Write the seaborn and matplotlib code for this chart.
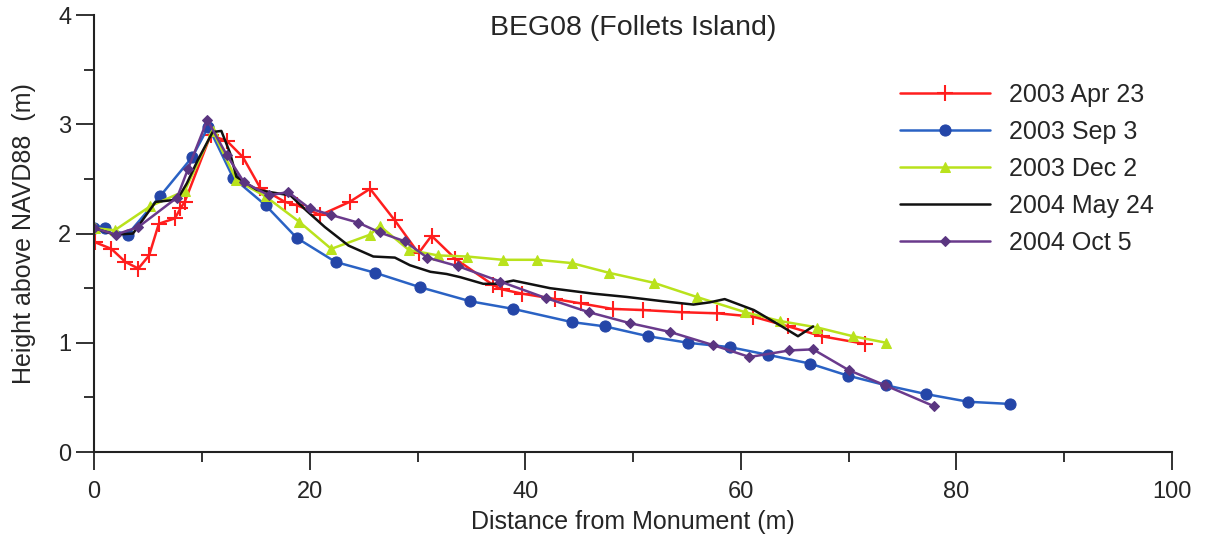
import numpy as np
import pandas as pd
import matplotlib
matplotlib.use("Agg")
import matplotlib.pyplot as plt
from matplotlib.ticker import MultipleLocator
import seaborn as sns

# --- Data ---
apr03_x = [0.1, 1.6, 2.9, 4.1, 5.1, 6.0, 7.5, 8.0, 8.4, 10.8, 12.3, 13.8, 15.4, 17.7, 18.8,
           21.0, 23.7, 25.6, 27.9, 30.1, 31.3, 33.5, 37.0, 37.8, 39.7, 42.8, 45.2, 48.1,
           50.9, 54.5, 57.8, 61.1, 64.4, 67.5, 71.5]
apr03_y = [1.92, 1.86, 1.74, 1.68, 1.80, 2.09, 2.14, 2.23, 2.29, 2.90, 2.85, 2.70, 2.42, 2.29, 2.26,
           2.17, 2.29, 2.41, 2.12, 1.82, 1.98, 1.77, 1.53, 1.49, 1.45, 1.40, 1.36, 1.31,
           1.30, 1.28, 1.27, 1.24, 1.15, 1.06, 0.99]

sep03_x = [0.0, 1.0, 3.1, 6.1, 9.1, 10.6, 12.9, 15.9, 18.8, 22.4, 26.1, 30.2, 34.9, 38.9,
           44.3, 47.4, 51.4, 55.1, 59.0, 62.5, 66.4, 69.9, 73.5, 77.2, 81.1, 85.0]
sep03_y = [2.05, 2.05, 1.99, 2.34, 2.70, 2.98, 2.51, 2.26, 1.96, 1.74, 1.64, 1.51, 1.38, 1.31,
           1.19, 1.15, 1.06, 1.00, 0.96, 0.89, 0.81, 0.70, 0.61, 0.53, 0.46, 0.44]

dec03_x = [0.1, 1.9, 5.2, 8.4, 11.0, 13.2, 15.9, 19.0, 22.0, 25.6, 26.5, 29.2, 31.9, 34.6,
           37.9, 41.1, 44.3, 47.8, 51.9, 55.9, 60.4, 63.6, 67.1, 70.4, 73.5]
dec03_y = [2.05, 2.03, 2.25, 2.39, 2.94, 2.49, 2.34, 2.11, 1.86, 1.99, 2.07, 1.85, 1.80, 1.79,
           1.76, 1.76, 1.73, 1.64, 1.55, 1.42, 1.28, 1.20, 1.14, 1.06, 1.00]

may04_x = [0.0, 1.9, 3.6, 5.7, 7.7, 8.6, 9.6, 11.0, 11.8, 12.6, 13.2, 15.1, 16.3, 18.2, 19.7,
           21.4, 23.6, 25.9, 27.9, 29.3, 31.2, 32.7, 34.0, 36.1, 37.4, 38.9, 42.3, 46.3,
           49.4, 52.8, 55.6, 57.1, 58.5, 61.2, 63.8, 65.3, 66.7]
may04_y = [2.05, 1.99, 2.00, 2.29, 2.31, 2.46, 2.67, 2.93, 2.94, 2.74, 2.52, 2.40, 2.38, 2.35, 2.21,
           2.06, 1.89, 1.79, 1.78, 1.71, 1.65, 1.63, 1.60, 1.54, 1.54, 1.57, 1.50, 1.45,
           1.42, 1.38, 1.35, 1.37, 1.40, 1.30, 1.15, 1.06, 1.15]

oct04_x = [0.0, 2.0, 4.1, 7.7, 8.7, 10.5, 12.3, 13.9, 16.2, 18.0, 20.0, 22.0, 24.5, 26.5, 28.8,
           30.9, 33.8, 37.7, 41.9, 45.9, 49.7, 53.4, 57.4, 60.8, 64.5, 66.7, 70.0, 73.4, 77.9]
oct04_y = [2.05, 1.99, 2.06, 2.33, 2.59, 3.04, 2.72, 2.47, 2.35, 2.38, 2.23, 2.17, 2.10, 2.01, 1.93,
           1.78, 1.70, 1.56, 1.41, 1.28, 1.18, 1.10, 0.98, 0.87, 0.93, 0.94, 0.75, 0.61, 0.42]

labels = ["2003 Apr 23", "2003 Sep 3", "2003 Dec 2", "2004 May 24", "2004 Oct 5"]
series_x = [apr03_x, sep03_x, dec03_x, may04_x, oct04_x]
series_y = [apr03_y, sep03_y, dec03_y, may04_y, oct04_y]

# --- Styles ---
colors = ["#ff1e1e", "#2a62c4", "#b9e21c", "#111111", "#6a3a8c"]
marker_faces = ["#ff1e1e", "#2446a8", "#b9e21c", "#111111", "#5a3580"]
markers = ["+", "o", "^", None, "D"]
msizes = [11, 8, 7, 0, 5.5]

sns.set_style("ticks")
plt.rcParams["font.family"] = ["Liberation Sans", "DejaVu Sans"]

fig = plt.figure(figsize=(12.07, 5.41), dpi=100)
ax = fig.add_axes([0.078, 0.1645, 0.893, 0.8075])

for xs, ys, lab, c, mf, m, ms in zip(series_x, series_y, labels, colors, marker_faces, markers, msizes):
    df = pd.DataFrame({"x": xs, "y": ys})
    kw = dict(marker=m, markersize=ms, markerfacecolor=mf, markeredgecolor=mf) if m else {}
    if m == "+":
        kw["markeredgewidth"] = 1.5
    sns.lineplot(data=df, x="x", y="y", ax=ax, sort=False, estimator=None,
                 color=c, linewidth=1.8, label=lab, **kw)

ax.set_xlim(0, 100)
ax.set_ylim(0, 4)
ax.xaxis.set_major_locator(MultipleLocator(20))
ax.xaxis.set_minor_locator(MultipleLocator(10))
ax.yaxis.set_major_locator(MultipleLocator(1))
ax.yaxis.set_minor_locator(MultipleLocator(0.5))
ax.tick_params(which="major", length=13, width=1.3, labelsize=17, direction="out", color="#222222")
ax.tick_params(which="minor", length=7, width=1.3, direction="out", color="#222222")
ax.tick_params(axis="x", pad=8)
for side in ["top", "right"]:
    ax.spines[side].set_visible(False)
for side in ["left", "bottom"]:
    ax.spines[side].set_linewidth(1.5)
    ax.spines[side].set_color("#222222")

ax.set_xlabel("Distance from Monument (m)", fontsize=18, labelpad=5)
ax.set_ylabel("Height above NAVD88  (m)", fontsize=18, labelpad=16)
ax.text(0.5, 1.0, "BEG08 (Follets Island)", transform=ax.transAxes,
        ha="center", va="top", fontsize=20.5)

ax.legend(loc="upper right", bbox_to_anchor=(1.004, 0.897), frameon=False, fontsize=18,
          handlelength=3.6, handletextpad=0.75, labelspacing=0.52)

fig.savefig("out.png", dpi=100)
